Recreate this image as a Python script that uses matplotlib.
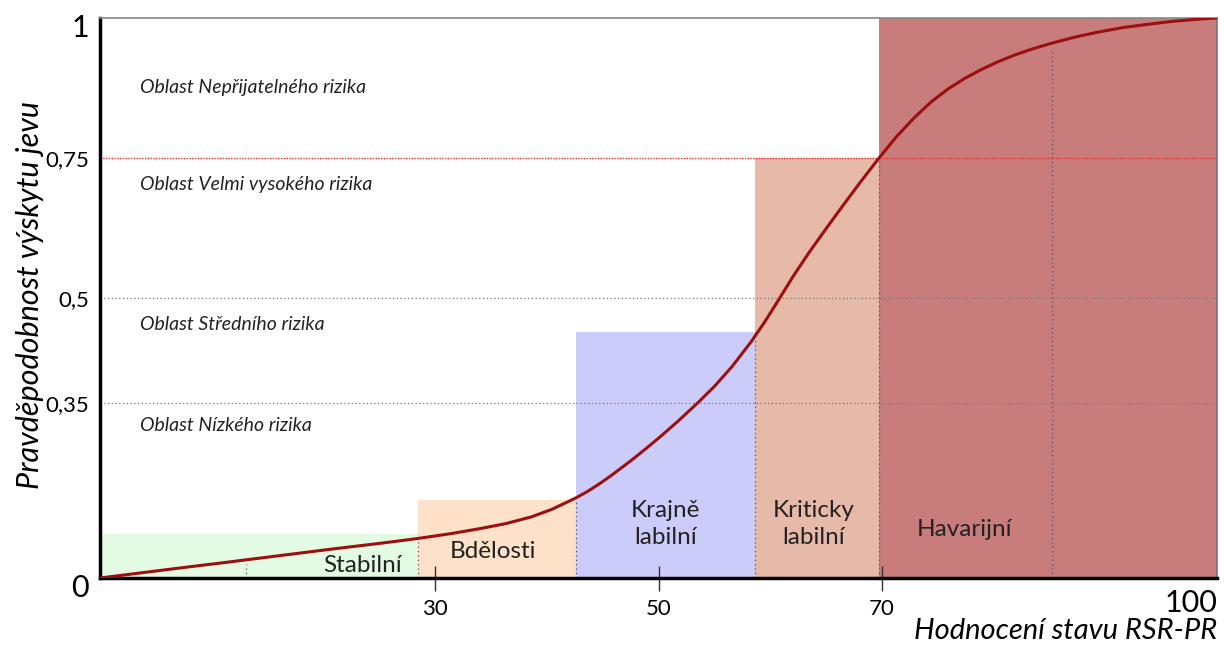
import numpy as np
import matplotlib
matplotlib.use("Agg")
import matplotlib.pyplot as plt

plt.rcParams['font.family'] = ['Lato', 'DejaVu Sans']

# Krivka pravdepodobnosti
krivka_x = [0, 4, 8, 10.5, 13.1, 15.5, 17.9, 20.5, 23, 25.1, 27, 28.6, 31.5, 34.1, 36.3, 38.6, 40.5,
            42.6, 43.6, 44.7, 45.7, 47.5, 49, 50.2, 51.8, 53.5, 55, 56.6, 58.3, 59.5, 60.7,
            62, 63.4, 64.9, 66.4, 68, 69.7, 71.3, 72.9, 74.4, 75.9, 77.4, 78.9, 80.4, 81.9,
            83.5, 85.2, 87.3, 89.4, 91.6, 93.9, 96, 98.4, 100]
krivka_y = [0, 0.01, 0.02, 0.026, 0.0325, 0.0385, 0.0445, 0.051, 0.057, 0.062, 0.0668, 0.071, 0.0795, 0.0885,
            0.097, 0.109, 0.123,
            0.143, 0.154, 0.168, 0.182, 0.209, 0.233, 0.253, 0.281, 0.3125, 0.342, 0.378, 0.422, 0.457, 0.495,
            0.537, 0.579, 0.621, 0.662, 0.705, 0.749, 0.788, 0.822, 0.85, 0.873, 0.892, 0.908, 0.922, 0.934,
            0.945, 0.955, 0.966, 0.975, 0.983, 0.989, 0.994, 0.998, 1.0]

# Pasma stavu
pasma_nazvy = ["Stabilní", "Bdělosti", "Krajně\nlabilní", "Kriticky\nlabilní", "Havarijní"]
pasma_od = [0, 28.5, 42.6, 58.65, 69.7]
pasma_do = [28.5, 42.6, 58.65, 69.7, 100]
pasma_vyska = [0.079, 0.139, 0.439, 0.75, 1.0]
pasma_barvy = ["#e3fbe3", "#fde1c9", "#ccccfb", "#e6b9a9", "#c97c7c"]

# Svisle teckovane cary
svisle_x = [13.1, 28.5, 42.6, 58.65, 69.7, 85.2]
svisle_y = [0.025, 0.079, 0.139, 0.439, 0.75, 0.945]

# Osa y
y_ticks = [0, 0.3125, 0.5, 0.75, 1]
y_labels = ["0", "0,35", "0,5", "0,75", "1"]
x_ticks = [30, 50, 70]

oblasti = ["Oblast Nepřijatelného rizika", "Oblast Velmi vysokého rizika",
           "Oblast Středního rizika", "Oblast Nízkého rizika"]

fig = plt.figure(figsize=(12.24, 6.48), dpi=100)
ax = fig.add_axes([100 / 1224, 1 - 578 / 648, 1117 / 1224, 560 / 648])

for x0, x1, h, c in zip(pasma_od, pasma_do, pasma_vyska, pasma_barvy):
    ax.bar(x0, h, width=x1 - x0, align="edge", color=c, edgecolor="none", zorder=1)

for xv, yv in zip(svisle_x, svisle_y):
    ax.plot([xv, xv], [0, yv], color="#555555", linestyle=(0, (1, 2.5)), linewidth=0.9, zorder=2)

ax.axhline(y_ticks[2], color="#777777", linestyle=(0, (1, 2)), linewidth=0.9, zorder=2)
ax.axhline(y_ticks[1], color="#777777", linestyle=(0, (1, 2)), linewidth=0.9, zorder=2)
ax.axhline(y_ticks[3], color="#e8302c", linestyle=(0, (1, 1)), linewidth=1.0, zorder=2)

ax.plot(krivka_x, krivka_y, color="#9b0f0f", linewidth=2.2, zorder=3,
        solid_capstyle="round", solid_joinstyle="round")

# Popisky pasem
pozice_pasem = [(23.5, 0.023), (35.2, 0.048), (50.6, 0.097), (63.9, 0.097), (77.4, 0.086)]
for nazev, (px, py) in zip(pasma_nazvy, pozice_pasem):
    ax.text(px, py, nazev, ha="center", va="center", fontsize=17.5, color="#222222",
            linespacing=1.35, zorder=4)

pozice_oblasti = [0.875, 0.702, 0.452, 0.273]
for txt, py in zip(oblasti, pozice_oblasti):
    ax.text(3.6, py, txt, ha="left", va="center", fontsize=14, style="italic", color="#222222")

ax.set_xlim(0, 100)
ax.set_ylim(0, 1)

# 0 a 1 jsou vetsi a posunute dolu, kreslim je zvlast
ax.set_yticks(y_ticks)
ax.set_yticklabels(["" if l in ("0", "1") else l for l in y_labels])
ax.tick_params(axis="y", length=0, pad=8, labelsize=16)
for yv, l in zip(y_ticks, y_labels):
    if l in ("0", "1"):
        ax.annotate(l, xy=(0, yv), xycoords=("axes fraction", "data"),
                    xytext=(-8, -7), textcoords="offset points",
                    ha="right", va="center", fontsize=22)

ax.set_xticks(x_ticks)
ax.tick_params(axis="x", direction="inout", length=18, width=1.0, color="#333333",
               labelsize=16, pad=6)

ax.text(100, -0.02, "100", ha="right", va="top", fontsize=22)

ax.spines["left"].set_linewidth(2.5)
ax.spines["bottom"].set_linewidth(2.5)
ax.spines["top"].set_color("#888888")
ax.spines["top"].set_linewidth(1.2)
ax.spines["right"].set_color("#777777")
ax.spines["right"].set_linewidth(1.2)

fig.text(30 / 1224, 1 - 295 / 648, "Pravděpodobnost výskytu jevu", rotation=90,
         ha="center", va="center", fontsize=22, style="italic")
fig.text(1217 / 1224, 1 - 631 / 648, "Hodnocení stavu RSR-PR", ha="right", va="center",
         fontsize=21, style="italic")

fig.savefig("out.png", dpi=100)
